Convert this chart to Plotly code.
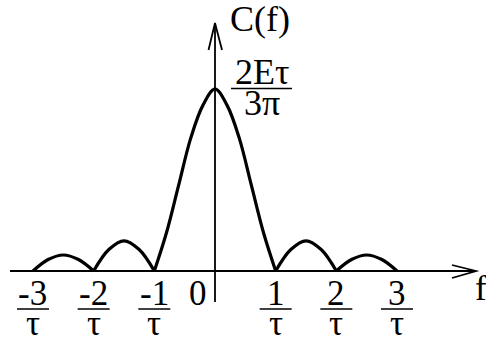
import plotly.graph_objects as go

# Amplitude spectrum C(f), normalised so the main-lobe peak 2Eτ/(3π) = 1.
# f is measured in units of 1/τ.  Each lobe is listed separately.
lobe_f = [
    [-3.0, -2.75, -2.5, -2.25, -2.0],
    [-2.0, -1.75, -1.5, -1.25, -1.0],
    [-1.0, -0.8, -0.6, -0.4, -0.2, 0.0, 0.2, 0.4, 0.6, 0.8, 1.0],
    [1.0, 1.25, 1.5, 1.75, 2.0],
    [2.0, 2.25, 2.5, 2.75, 3.0],
]
lobe_c = [
    [0.0, 0.063, 0.088, 0.063, 0.0],
    [0.0, 0.118, 0.166, 0.118, 0.0],
    [0.0, 0.21, 0.47, 0.73, 0.91, 1.0, 0.91, 0.73, 0.47, 0.21, 0.0],
    [0.0, 0.118, 0.166, 0.118, 0.0],
    [0.0, 0.063, 0.088, 0.063, 0.0],
]

tick_f = [-3, -2, -1, 1, 2, 3]
tick_num = ["-3", "-2", "-1", "1", "2", "3"]
tick_den = "τ"
peak_num = "2Eτ"
peak_den = "3π"

W, H = 486, 345
PX0, PPU = 215.0, 60.67   # pixel of f = 0, pixels per 1/τ
PY0, PPY = 271.0, 182.0   # pixel of C = 0, pixels per unit C

def hx(px):
    return (px - PX0) / PPU

def vy(py):
    return (PY0 - py) / PPY

FONT = "'Liberation Serif', 'Times New Roman', Times, serif"
BLACK = "#000000"

xs, ys = [], []
for fs, cs in zip(lobe_f, lobe_c):
    xs += fs + [None]
    ys += cs + [None]

fig = go.Figure()
fig.add_trace(go.Scatter(
    x=xs, y=ys, mode="lines", connectgaps=False,
    line=dict(color=BLACK, width=3.2, shape="spline", smoothing=1.0),
    hoverinfo="skip", showlegend=False,
))

shapes = []
axis_line = dict(color=BLACK, width=1.8)
# horizontal and vertical axes with open arrow heads
shapes.append(dict(type="line", x0=hx(10), x1=hx(475), y0=0, y1=0, line=axis_line))
shapes.append(dict(type="line", x0=0, x1=0, y0=vy(302), y1=vy(23), line=axis_line))
shapes.append(dict(type="path", line=axis_line,
                   path=f"M {hx(452)} {vy(265)} L {hx(476)} {vy(271)} L {hx(452)} {vy(278)}"))
shapes.append(dict(type="path", line=axis_line,
                   path=f"M {hx(208.5)} {vy(50)} L {hx(215)} {vy(23)} L {hx(222)} {vy(50)}"))

annotations = []
def label(px, py, text, size):
    annotations.append(dict(x=hx(px), y=vy(py), text=text, showarrow=False,
                            xanchor="center", yanchor="middle",
                            font=dict(family=FONT, size=size, color=BLACK)))

# tick fractions k/τ
for f, num in zip(tick_f, tick_num):
    annotations.append(dict(x=f, y=vy(293), text=num, showarrow=False,
                            xanchor="center", yanchor="middle",
                            font=dict(family=FONT, size=35, color=BLACK)))
    annotations.append(dict(x=f, y=vy(323), text=tick_den, showarrow=False,
                            xanchor="center", yanchor="middle",
                            font=dict(family=FONT, size=35, color=BLACK)))
    shapes.append(dict(type="line", xref="x", xsizemode="pixel", xanchor=f,
                       x0=-16, x1=16, y0=vy(309), y1=vy(309),
                       line=dict(color=BLACK, width=1.7)))

label(198, 293, "0", 35)
label(481, 288, "f", 35)
label(260, 19, "C(f)", 36)

# peak value 2Eτ / 3π
label(262, 72, peak_num, 36)
label(262, 103, peak_den, 36)
shapes.append(dict(type="line", x0=hx(231), x1=hx(292), y0=vy(88.5), y1=vy(88.5),
                   line=dict(color=BLACK, width=1.7)))

fig.update_layout(
    width=W, height=H,
    margin=dict(l=0, r=0, t=0, b=0),
    paper_bgcolor="white", plot_bgcolor="white",
    xaxis=dict(range=[hx(0), hx(W)], visible=False, fixedrange=True),
    yaxis=dict(range=[vy(H), vy(0)], visible=False, fixedrange=True),
    shapes=shapes, annotations=annotations,
    showlegend=False,
)

fig.write_html("out.html", config={"displayModeBar": False})
